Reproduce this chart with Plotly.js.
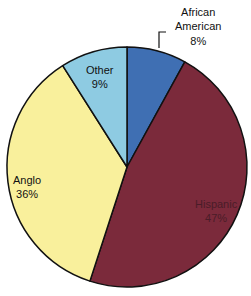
<!DOCTYPE html>
<html>
<head>
<meta charset="utf-8">
<script src="https://cdn.plot.ly/plotly-3.0.1.min.js"></script>
<style>html,body{margin:0;padding:0;background:#fff;}#chart{width:251px;height:296px;}</style>
</head>
<body>
<div id="chart"></div>
<script>
const labels = ['African American', 'Hispanic', 'Anglo', 'Other'];
const values = [8, 47, 36, 9];
const colors = ['#3f6fb3', '#7b2a3b', '#f9f09c', '#8ecbe2'];
const textColors = ['#111111', '#4a1c28', '#111111', '#111111'];

// label anchor positions in pixel space (layout only)
const W = 251, H = 296;
const margin = {l: 5, r: 2, t: 47, b: 9};
const pw = W - margin.l - margin.r, ph = H - margin.t - margin.b;
const px = x => (x - margin.l) / pw;
const py = y => (H - margin.b - y) / ph;
const labelPos = [[198, 26], [216, 211], [27, 187], [100, 77]];

const annotations = labels.map((lab, i) => ({
  xref: 'paper', yref: 'paper',
  x: px(labelPos[i][0]), y: py(labelPos[i][1]),
  xanchor: 'center', yanchor: 'middle',
  showarrow: false,
  text: lab.replace(' ', '<br>') + '<br>' + values[i] + '%',
  font: {family: 'Liberation Sans, Arial, sans-serif', size: 11, color: textColors[i]},
  align: 'center'
}));

const data = [{
  type: 'pie',
  labels: labels,
  values: values,
  sort: false,
  direction: 'clockwise',
  rotation: 0,
  textinfo: 'none',
  hoverinfo: 'none',
  marker: {colors: colors, line: {color: '#111111', width: 1.5}},
  domain: {x: [0, 1], y: [0, 1]},
  showlegend: false
}];

const layout = {
  width: W, height: H,
  margin: margin,
  paper_bgcolor: '#ffffff',
  plot_bgcolor: '#ffffff',
  showlegend: false,
  annotations: annotations,
  shapes: [{
    type: 'path', xref: 'paper', yref: 'paper',
    path: `M ${px(159)} ${py(48)} L ${px(159)} ${py(32)} L ${px(166)} ${py(32)}`,
    line: {color: '#111111', width: 1.2}
  }]
};

Plotly.newPlot('chart', data, layout, {displayModeBar: false, staticPlot: true});
</script>
</body>
</html>
